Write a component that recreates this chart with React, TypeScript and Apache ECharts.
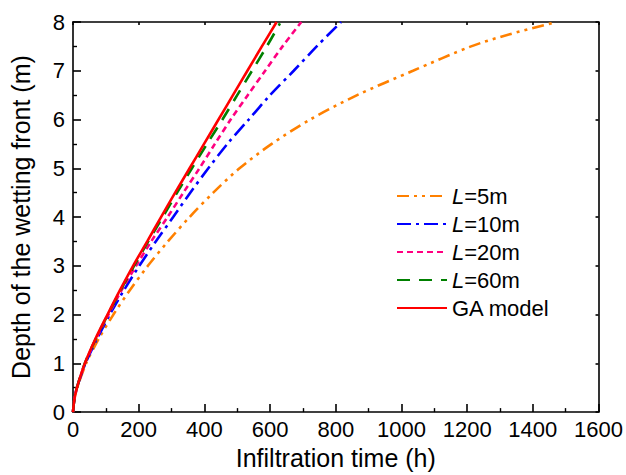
import React, { useEffect, useRef } from "react";
import * as echarts from "echarts";

const FONT = "'Liberation Sans', Arial, sans-serif";

// Depth of the wetting front (m)
const DEPTH = [0, 0.25, 0.5, 1, 1.5, 2, 2.5, 3, 3.5, 4, 4.5, 5, 5.5, 6, 6.5, 7, 7.5, 8];
const DEPTH_L5 = [0, 0.25, 0.5, 1, 1.5, 2, 2.5, 3, 3.5, 4, 4.5, 5, 5.5, 6, 6.5, 7, 7.5, 7.75, 8];
const DEPTH_L60 = [0, 0.25, 0.5, 1, 1.5, 2, 2.5, 3, 3.5, 4, 4.5, 5, 5.5, 6, 6.5, 7, 7.5, 7.97];

// Infiltration time (h)
const TIME_L5 = [0, 4, 13, 40, 78, 123, 173, 228, 289, 355, 427, 507, 605, 722, 865, 1035, 1212, 1330, 1471];
const TIME_L10 = [0, 4, 12, 38, 73, 112, 155, 202, 252, 305, 357, 412, 470, 535, 600, 672, 742, 816];
const TIME_L20 = [0, 4, 12, 37, 70, 108, 148, 192, 238, 288, 336, 385, 432, 480, 532, 585, 638, 695];
const TIME_L60 = [0, 4, 12, 36, 69, 106, 145, 186, 229, 273, 317, 362, 408, 455, 500, 545, 590, 630];
const TIME_GA = [0, 4, 12, 36, 68, 105, 143, 183, 226, 268, 311, 355, 399, 443, 487, 531, 575, 620];

const SERIES_NAMES = ["L=5m", "L=10m", "L=20m", "L=60m", "GA model"];
const COLORS = ["#FF8000", "#0000FF", "#FF0080", "#008000", "#FF0000"];

const X_TICKS = { min: 0, max: 1600, interval: 200 };
const Y_TICKS = { min: 0, max: 8, interval: 1 };

function pairs(times: number[], depths: number[]) {
  return times.map((t, i) => [t, depths[i]]);
}

export default function App() {
  const ref = useRef<HTMLDivElement>(null);
  useEffect(() => {
    if (!ref.current) return;
    const chart = echarts.init(ref.current, undefined, { renderer: "svg" });
    const axisLineStyle = { color: "#000", width: 1.6 };
    const labelStyle = { fontSize: 22, color: "#000", fontFamily: FONT };
    const data = [
      pairs(TIME_L5, DEPTH_L5),
      pairs(TIME_L10, DEPTH),
      pairs(TIME_L20, DEPTH),
      pairs(TIME_L60, DEPTH_L60),
      pairs(TIME_GA, DEPTH),
    ];
    const dashes: any[] = [
      [12, 5, 3, 5, 3, 5],
      [14, 5, 3, 5],
      [6, 4],
      [13, 9],
      "solid",
    ];
    chart.setOption({
      animation: false,
      backgroundColor: "#fff",
      grid: { left: 73, right: 23, top: 22, bottom: 62 },
      legend: {
        orient: "vertical",
        left: 391,
        top: 180,
        itemWidth: 50,
        itemHeight: 14,
        itemGap: 6,
        data: SERIES_NAMES,
        itemStyle: { opacity: 0 },
        textStyle: {
          fontSize: 22,
          color: "#000",
          fontFamily: FONT,
          rich: {
            i: { fontStyle: "italic", fontSize: 22, color: "#000", fontFamily: FONT },
          },
        },
        formatter: (name: string) =>
          name.startsWith("L=") ? "{i|L}" + name.slice(1) : name,
      },
      xAxis: [
        {
          type: "value",
          position: "bottom",
          ...X_TICKS,
          name: "Infiltration time (h)",
          nameLocation: "middle",
          nameGap: 32,
          nameTextStyle: { fontSize: 25, color: "#000", fontFamily: FONT },
          axisLine: { show: true, onZero: false, lineStyle: axisLineStyle },
          axisTick: { show: true, inside: true, length: 8, lineStyle: axisLineStyle },
          minorTick: { show: true, splitNumber: 2, length: 4, lineStyle: { color: "#000", width: 1.4 } },
          axisLabel: { ...labelStyle, margin: 6, formatter: (v: number) => String(v) },
          splitLine: { show: false },
          minorSplitLine: { show: false },
        },
        {
          type: "value",
          position: "top",
          ...X_TICKS,
          axisLine: { show: true, onZero: false, lineStyle: axisLineStyle },
          axisTick: { show: true, inside: true, length: 3, lineStyle: axisLineStyle },
          axisLabel: { show: false },
          splitLine: { show: false },
        },
      ],
      yAxis: [
        {
          type: "value",
          position: "left",
          ...Y_TICKS,
          name: "Depth of the wetting front (m)",
          nameLocation: "middle",
          nameGap: 40,
          nameTextStyle: { fontSize: 25, color: "#000", fontFamily: FONT },
          axisLine: { show: true, onZero: false, lineStyle: axisLineStyle },
          axisTick: { show: true, inside: true, length: 8, lineStyle: axisLineStyle },
          minorTick: { show: true, splitNumber: 2, length: 4, lineStyle: { color: "#000", width: 1.4 } },
          axisLabel: { ...labelStyle, margin: 8, formatter: (v: number) => String(v) },
          splitLine: { show: false },
          minorSplitLine: { show: false },
        },
        {
          type: "value",
          position: "right",
          ...Y_TICKS,
          axisLine: { show: true, onZero: false, lineStyle: axisLineStyle },
          axisTick: { show: true, inside: true, length: 3, lineStyle: axisLineStyle },
          axisLabel: { show: false },
          splitLine: { show: false },
        },
      ],
      series: SERIES_NAMES.map((name, i) => ({
        name,
        type: "line",
        data: data[i],
        showSymbol: false,
        symbol: "none",
        smooth: 0.3,
        color: COLORS[i],
        lineStyle: { color: COLORS[i], width: 2.6, type: dashes[i], cap: "butt" },
        z: 2 + i,
      })),
    });
    return () => chart.dispose();
  }, []);
  return (
    <div
      ref={ref}
      style={{ position: "absolute", left: 0, top: 0, width: 626, height: 475 }}
    />
  );
}
